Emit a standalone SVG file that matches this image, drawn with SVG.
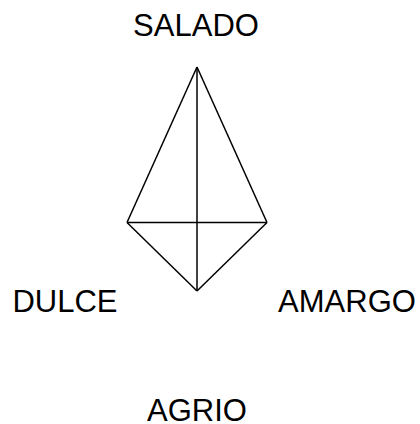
<svg xmlns="http://www.w3.org/2000/svg" width="420" height="424" viewBox="0 0 420 424">
<style>
.lbl{font-family:"Liberation Sans",Arial,sans-serif;font-size:31px;fill:#000;text-anchor:middle}
.ln{stroke:#000;stroke-width:1.5;fill:none}
</style>
<rect width="420" height="424" fill="#fff"/>
<g id="connectors">
<line class="ln" x1="197" y1="67" x2="127" y2="222.5"/>
<line class="ln" x1="197" y1="67" x2="267" y2="222.5"/>
<line class="ln" x1="127" y1="222.5" x2="197" y2="291"/>
<line class="ln" x1="267" y1="222.5" x2="197" y2="291"/>
<line class="ln" x1="127" y1="222.5" x2="267" y2="222.5"/>
<line class="ln" x1="197" y1="67" x2="197" y2="291"/>
</g>
<g id="salado"><text class="lbl" x="196" y="36">SALADO</text></g>
<g id="dulce"><text class="lbl" x="65" y="312">DULCE</text></g>
<g id="amargo"><text class="lbl" x="347" y="312">AMARGO</text></g>
<g id="agrio"><text class="lbl" x="197" y="421">AGRIO</text></g>
</svg>
